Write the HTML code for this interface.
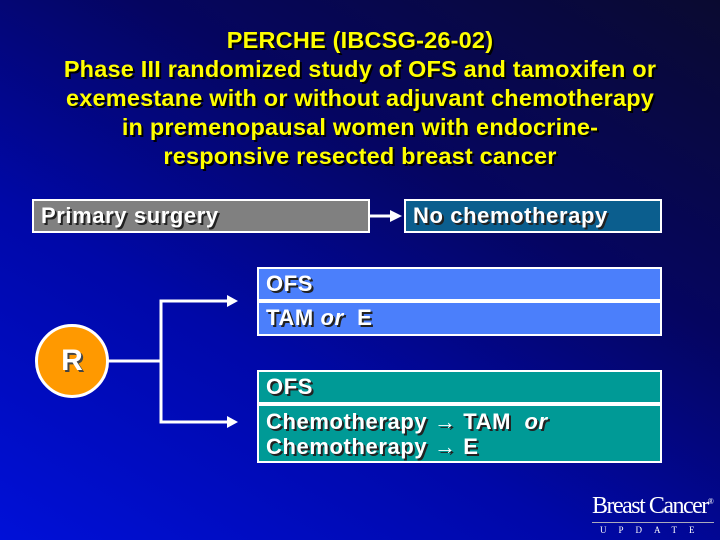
<!DOCTYPE html>
<html><head><style>
html,body{margin:0;width:720px;height:540px;overflow:hidden;}
body{position:relative;font-family:"Liberation Sans",Arial,sans-serif;
background:linear-gradient(30deg,#0010d8 0%,#0008a8 35%,#050560 65%,#0a0a30 100%);}
.t{position:absolute;left:0;width:720px;top:26px;text-align:center;color:#ffff00;font-weight:bold;font-size:23.5px;line-height:29px;text-shadow:2px 2px 0 #000;white-space:nowrap;letter-spacing:0.2px;}
.b{position:absolute;box-sizing:border-box;border:2px solid #fff;color:#fff;font-weight:bold;font-size:22px;padding-left:7px;text-shadow:2px 2px 0 #222;line-height:30px;white-space:nowrap;letter-spacing:0.6px;}
.c{position:absolute;left:35px;top:324px;width:74px;height:74px;border-radius:50%;background:#ff9900;border:3px solid #fff;box-sizing:border-box;color:#fff;font-weight:bold;font-size:30px;text-align:center;line-height:68px;text-shadow:2px 2px 0 #444;}
.logo{position:absolute;left:592px;top:488px;width:124px;color:#fff;font-family:"Liberation Serif",serif;white-space:nowrap;}
</style></head><body>
<div class="t">PERCHE (IBCSG-26-02)<br>Phase III randomized study of OFS and tamoxifen or<br>exemestane with or without adjuvant chemotherapy<br>in premenopausal women with endocrine-<br>responsive resected breast cancer</div>
<div class="b" style="left:32px;top:199px;width:338px;height:34px;background:#808080;">Primary surgery</div>
<div class="b" style="left:404px;top:199px;width:258px;height:34px;background:#0b5e8e;">No chemotherapy</div>
<div class="b" style="left:257px;top:267px;width:405px;height:34px;background:#4b7ffb;">OFS</div>
<div class="b" style="left:257px;top:301px;width:405px;height:35px;background:#4b7ffb;">TAM <i>or</i>&nbsp; E</div>
<div class="b" style="left:257px;top:370px;width:405px;height:34px;background:#009a96;">OFS</div>
<div class="b" style="left:257px;top:404px;width:405px;height:59px;background:#009a96;line-height:25px;padding-top:3px;">Chemotherapy → TAM &nbsp;<i>or</i><br>Chemotherapy → E</div>
<svg style="position:absolute;left:0;top:0" width="720" height="540">
<g stroke="#fff" stroke-width="3" fill="none">
<line x1="370" y1="216" x2="392" y2="216"/>
<line x1="108" y1="361" x2="161" y2="361"/>
<polyline points="230,301 161,301 161,422 230,422"/>
</g>
<g fill="#fff">
<polygon points="390,210 402,216 390,222"/>
<polygon points="227,295 238,301 227,307"/>
<polygon points="227,416 238,422 227,428"/>
</g>
</svg>
<div class="c">R</div>
<div class="logo"><div style="font-size:24px;letter-spacing:-1.5px;line-height:28px;">Breast Cancer<sup style="font-size:8px">®</sup></div>
<div style="border-top:1px solid #aab;margin-top:2px;width:114px;font-size:9px;letter-spacing:12px;padding-left:8px;line-height:14px;">UPDATE</div></div>
</body></html>
